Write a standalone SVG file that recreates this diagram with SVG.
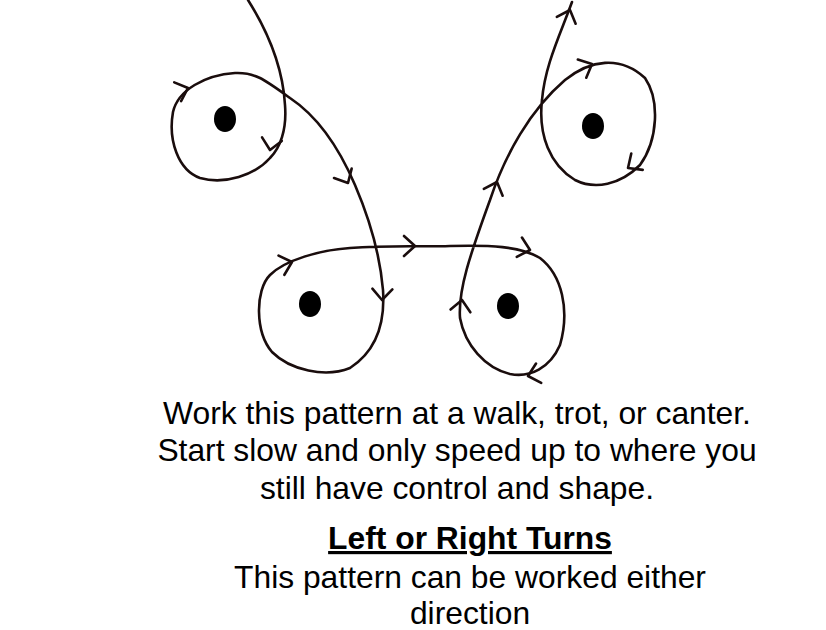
<svg xmlns="http://www.w3.org/2000/svg" width="826" height="630" viewBox="0 0 826 630">
<style>
.ln{fill:none;stroke:#1a0d0d;stroke-width:2.6;stroke-linecap:round;stroke-linejoin:round}
.t{font-family:"Liberation Sans",Arial,sans-serif;font-size:31.8px;fill:#000;text-anchor:middle}
</style>
<defs><path id="ch" class="ln" d="M-11,-10 L0,0 L-11,10"/></defs>
<rect width="826" height="630" fill="#fff"/>
<g id="track">
<path class="ln" d="M248,0 C270,35 283,70 285,105 C287,130 280,148 270,158 C255,175 225,185 200,178 C178,170 168,140 173,112 C178,90 205,75 235,73 C255,72 265,80 290,98 C320,118 340,150 355,185 C370,220 380,255 383,290 C385,320 378,350 350,368 C325,378 290,370 272,352 C255,332 255,290 270,275 C285,260 320,250 350,248 C390,245 420,247 450,246 C490,245 520,246 540,258 C562,275 570,310 560,345 C550,368 530,378 510,374 C485,368 465,345 460,318 C458,290 470,255 490,200 C505,155 530,110 565,80 C590,60 620,55 645,78 C660,100 658,140 640,165 C620,185 595,190 575,180 C550,165 538,135 542,100 C545,65 560,35 572,2"/>
</g>
<g id="arrows">
<use href="#ch" transform="translate(270,150) rotate(100)"/>
<use href="#ch" transform="translate(188,88) rotate(-20)"/>
<use href="#ch" transform="translate(348,183) rotate(62)"/>
<use href="#ch" transform="translate(382,300) rotate(92)"/>
<use href="#ch" transform="translate(292,262) rotate(-17)"/>
<use href="#ch" transform="translate(415,246) rotate(0)"/>
<use href="#ch" transform="translate(530,250) rotate(15)"/>
<use href="#ch" transform="translate(528,376) rotate(165)"/>
<use href="#ch" transform="translate(462,300) rotate(-82)"/>
<use href="#ch" transform="translate(497,182) rotate(-70)"/>
<use href="#ch" transform="translate(592,64) rotate(-25)"/>
<use href="#ch" transform="translate(628,168) rotate(145)"/>
<use href="#ch" transform="translate(570,10) rotate(-70)"/>
</g>
<g id="dots" fill="#000">
<ellipse cx="225" cy="119" rx="11" ry="13"/>
<ellipse cx="593" cy="126" rx="11" ry="13"/>
<ellipse cx="310" cy="304" rx="11" ry="13"/>
<ellipse cx="508" cy="306" rx="11" ry="13"/>
</g>
<g id="text">
<text class="t" x="457" y="424">Work this pattern at a walk, trot, or canter.</text>
<text class="t" x="457" y="461">Start slow and only speed up to where you</text>
<text class="t" x="457" y="499">still have control and shape.</text>
<text class="t" x="470" y="549" font-weight="bold" text-decoration="underline">Left or Right Turns</text>
<text class="t" x="470" y="588">This pattern can be worked either</text>
<text class="t" x="470" y="624">direction</text>
</g>
</svg>
